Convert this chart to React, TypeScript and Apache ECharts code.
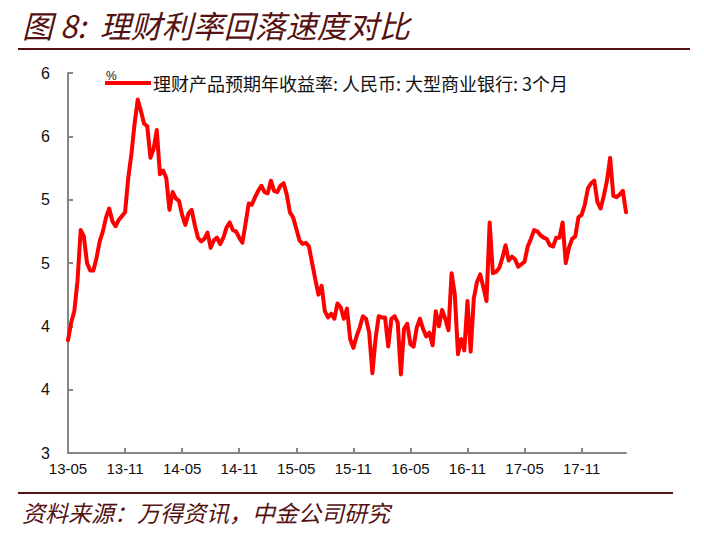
import React, { useEffect, useRef } from "react";
import * as echarts from "echarts";

// 3 observations per month (1st, 11th, 21st), 2013-05 .. 2018-03
const startYear = 2013;
const startMonth = 5;
const monthCount = 59;
const dekadDays = ["01", "11", "21"];

const seriesName = "理财产品预期年收益率: 人民币: 大型商业银行: 3个月";

const yieldValues = [
  3.89, 4.03, 4.12, 4.36, 4.76, 4.71, 4.50, 4.44, 4.44, 4.54,
  4.67, 4.75, 4.86, 4.93, 4.83, 4.79, 4.84, 4.87, 4.90, 5.17,
  5.36, 5.60, 5.79, 5.70, 5.60, 5.58, 5.33, 5.40, 5.55, 5.20,
  5.23, 5.17, 4.92, 5.06, 5.01, 4.99, 4.88, 4.80, 4.89, 4.92,
  4.80, 4.70, 4.67, 4.69, 4.74, 4.62, 4.68, 4.70, 4.65, 4.70,
  4.78, 4.82, 4.76, 4.75, 4.70, 4.66, 4.81, 4.97, 4.96, 5.02,
  5.07, 5.11, 5.06, 5.05, 5.15, 5.07, 5.06, 5.11, 5.13, 5.04,
  4.90, 4.86, 4.77, 4.68, 4.65, 4.66, 4.63, 4.50, 4.37, 4.25,
  4.32, 4.12, 4.07, 4.10, 4.06, 4.18, 4.15, 4.06, 4.14, 3.90,
  3.83, 3.92, 3.99, 4.08, 4.06, 3.95, 3.63, 3.90, 4.08, 4.07,
  4.07, 3.84, 4.06, 4.08, 4.03, 3.62, 3.98, 4.02, 3.86, 3.84,
  3.99, 4.06, 3.98, 3.92, 3.95, 3.85, 4.12, 4.00, 4.13, 4.06,
  3.97, 4.42, 4.25, 3.78, 3.90, 3.81, 4.20, 3.80, 4.22, 4.35,
  4.41, 4.31, 4.20, 4.82, 4.42, 4.43, 4.46, 4.54, 4.64, 4.52,
  4.55, 4.53, 4.47, 4.49, 4.51, 4.63, 4.69, 4.76, 4.75, 4.72,
  4.70, 4.69, 4.64, 4.63, 4.70, 4.70, 4.82, 4.50, 4.62, 4.69,
  4.71, 4.86, 4.88, 4.96, 5.09, 5.13, 5.15, 4.98, 4.93, 5.03,
  5.15, 5.33, 5.03, 5.02, 5.04, 5.07, 4.90,
];

const yTickValues = [3, 3.5, 4, 4.5, 5, 5.5, 6];

function buildCategories(): string[] {
  const out: string[] = [];
  for (let m = 0; m < monthCount; m++) {
    const total = startMonth - 1 + m;
    const y = startYear + Math.floor(total / 12);
    const mm = String((total % 12) + 1).padStart(2, "0");
    for (const d of dekadDays) out.push(`${y}-${mm}-${d}`);
  }
  return out;
}

const categories = buildCategories();

const DARK_RED = "#561212";
const AXIS_GRAY = "#868686";

export default function App() {
  const ref = useRef<HTMLDivElement>(null);

  useEffect(() => {
    document.body.style.margin = "0";
    if (!ref.current) return;
    const chart = echarts.init(ref.current, undefined, { renderer: "svg" });
    chart.setOption({
      animation: false,
      backgroundColor: "#ffffff",
      grid: { left: 68, top: 73, width: 558, height: 380, containLabel: false },
      legend: {
        data: [seriesName],
        left: 105,
        top: 74,
        padding: 0,
        icon: "rect",
        itemWidth: 46,
        itemHeight: 4,
        textStyle: {
          fontSize: 18,
          fontFamily: "Noto Sans CJK SC",
          color: "#111",
          padding: [0, 0, 0, -3],
        },
      },
      xAxis: {
        type: "category",
        data: categories,
        boundaryGap: false,
        axisLine: { lineStyle: { color: AXIS_GRAY, width: 2 } },
        axisTick: {
          inside: true,
          length: 5,
          interval: 17,
          lineStyle: { color: AXIS_GRAY, width: 2 },
        },
        axisLabel: {
          interval: 17,
          margin: 8,
          fontSize: 15,
          fontFamily: "Liberation Sans",
          color: "#111",
          formatter: (v: string) => v.slice(2, 7),
        },
        splitLine: { show: false },
      },
      yAxis: {
        type: "value",
        min: yTickValues[0],
        max: yTickValues[yTickValues.length - 1],
        interval: 0.5,
        axisLine: { show: true, lineStyle: { color: AXIS_GRAY, width: 2 } },
        axisTick: {
          show: true,
          inside: true,
          length: 5,
          lineStyle: { color: AXIS_GRAY, width: 2 },
        },
        axisLabel: {
          margin: 18,
          fontSize: 16,
          fontFamily: "Liberation Sans",
          color: "#111",
          formatter: (v: number) => String(Math.round(v)),
        },
        splitLine: { show: false },
      },
      series: [
        {
          name: seriesName,
          type: "line",
          data: yieldValues,
          showSymbol: false,
          symbol: "none",
          color: "#ff0000",
          lineStyle: { color: "#ff0000", width: 4, join: "round", cap: "round" },
        },
      ],
      graphic: [
        {
          type: "text",
          left: 22,
          top: 9,
          style: {
            text: "图 8:  理财利率回落速度对比",
            fontSize: 31,
            fontStyle: "italic",
            fontFamily: "Noto Sans CJK SC",
            fill: DARK_RED,
          },
        },
        {
          type: "line",
          shape: { x1: 18, y1: 49, x2: 690, y2: 49 },
          style: { stroke: DARK_RED, lineWidth: 2 },
        },
        {
          type: "text",
          left: 106,
          top: 70,
          style: {
            text: "%",
            fontSize: 12,
            fontFamily: "Liberation Sans",
            fill: "#111",
          },
        },
        {
          type: "line",
          shape: { x1: 18, y1: 493, x2: 673, y2: 493 },
          style: { stroke: DARK_RED, lineWidth: 2 },
        },
        {
          type: "text",
          left: 22,
          top: 500,
          style: {
            text: "资料来源：万得资讯，中金公司研究",
            fontSize: 23,
            fontStyle: "italic",
            fontFamily: "Noto Sans CJK SC",
            fill: DARK_RED,
          },
        },
      ],
    });
    return () => chart.dispose();
  }, []);

  return <div ref={ref} style={{ width: 704, height: 534 }} />;
}
